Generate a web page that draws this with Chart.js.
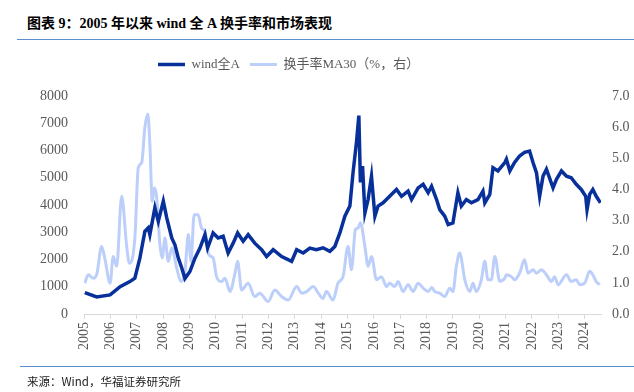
<!DOCTYPE html>
<html>
<head>
<meta charset="utf-8">
<script src="https://cdn.jsdelivr.net/npm/chart.js@4.4.1/dist/chart.umd.min.js"></script>
<style>
  html, body { margin:0; padding:0; background:#fff; }
  body { width:634px; height:392px; position:relative; overflow:hidden;
         font-family:'Liberation Serif','Noto Sans CJK SC',serif; }
  #title { position:absolute; left:27px; top:12px; font-size:14px; font-weight:bold; color:#000; white-space:nowrap; }
  .rule { position:absolute; left:17px; right:0; height:0; border-top:1.5px solid #5b8fd0; }
  #foot { position:absolute; left:27px; top:373px; font-size:11.5px; color:#222; white-space:nowrap;
          font-family:'Noto Sans CJK SC','Noto Sans',sans-serif; }
  #wrap { position:absolute; left:0; top:0; width:634px; height:392px; }
</style>
</head>
<body>
<div id="title">图表 9：2005 年以来 wind 全 A 换手率和市场表现</div>
<div class="rule" style="top:39px"></div>
<div id="wrap"><canvas id="c" width="634" height="392"></canvas></div>
<div class="rule" style="top:366px; left:20px"></div>
<div id="foot">来源：Wind，华福证券研究所</div>
<script>
// wind全A (left axis) — decimal year / index level
const indexDates = [2005.03,2005.48,2005.99,2006.37,2006.74,2006.93,2007.12,2007.31,2007.44,2007.50,2007.69,2007.82,
  2008.01,2008.14,2008.33,2008.45,2008.58,2008.71,2008.83,2009.02,2009.21,2009.40,2009.59,2009.69,2009.90,
  2010.09,2010.28,2010.47,2010.66,2010.83,2011.04,2011.23,2011.48,2011.74,2011.93,2012.18,2012.50,2012.88,
  2013.07,2013.32,2013.57,2013.82,2014.07,2014.33,2014.52,2014.71,2014.90,2015.09,2015.21,2015.34,2015.43,
  2015.49,2015.57,2015.66,2015.78,2015.91,2016.04,2016.16,2016.35,2016.60,2016.86,2017.05,2017.30,2017.43,
  2017.68,2017.87,2018.06,2018.19,2018.38,2018.50,2018.69,2018.82,2019.00,2019.19,2019.32,2019.51,2019.70,
  2019.95,2020.14,2020.21,2020.40,2020.52,2020.71,2020.97,2021.03,2021.16,2021.34,2021.53,2021.72,2021.91,
  2022.04,2022.17,2022.29,2022.42,2022.55,2022.80,2022.93,2023.12,2023.31,2023.49,2023.68,2023.87,2024.04,
  2024.09,2024.19,2024.31,2024.44,2024.60];
const indexValues = [785,627,700,1000,1190,1315,2050,3030,3160,2910,3900,3400,
  4140,3530,2790,2540,2050,1690,1300,1560,2050,2420,2910,2420,2975,
  2790,2850,2240,2600,2975,2670,2910,2600,2360,2110,2360,2110,1930,
  2360,2240,2420,2360,2430,2300,2480,2975,3590,3960,5190,6300,7280,
  4830,5430,3710,4200,5060,3590,3960,4080,4320,4570,4320,4510,4200,
  4630,4760,4450,4690,4200,3830,3590,3280,3340,4450,3960,4200,4080,
  4200,4510,4080,4390,5370,5250,5560,5680,5250,5560,5800,5930,5980,
  5560,5190,4320,5060,5310,4630,4940,5250,5060,5000,4760,4570,4320,
  3830,4390,4570,4320,4080];

// 换手率MA30 (right axis, %)
const turnDates = [2005.03,2005.16,2005.35,2005.48,2005.67,2005.80,2005.99,2006.11,2006.24,2006.43,2006.62,2006.72,
  2006.93,2007.06,2007.19,2007.31,2007.42,2007.50,2007.59,2007.67,2007.76,2007.88,2007.97,2008.07,2008.20,
  2008.33,2008.52,2008.68,2008.83,2008.96,2009.06,2009.18,2009.33,2009.46,2009.59,2009.74,2009.90,2010.03,
  2010.22,2010.35,2010.54,2010.73,2010.83,2010.98,2011.23,2011.48,2011.67,2011.99,2012.24,2012.50,2012.75,
  2013.07,2013.26,2013.45,2013.70,2013.89,2014.07,2014.20,2014.45,2014.64,2014.83,2015.02,2015.15,2015.30,
  2015.40,2015.49,2015.66,2015.78,2015.91,2016.10,2016.29,2016.48,2016.60,2016.79,2016.92,2017.11,2017.30,
  2017.49,2017.68,2017.87,2018.06,2018.20,2018.31,2018.50,2018.69,2018.88,2019.00,2019.13,2019.26,2019.45,
  2019.64,2019.76,2019.89,2020.08,2020.21,2020.33,2020.46,2020.59,2020.78,2020.97,2021.03,2021.22,2021.34,
  2021.53,2021.72,2021.85,2022.04,2022.17,2022.36,2022.55,2022.74,2022.86,2022.99,2023.31,2023.49,2023.68,
  2023.81,2024.00,2024.19,2024.31,2024.44,2024.57];
const turnValues = [0.99,1.26,1.15,1.26,2.17,1.74,0.99,1.85,1.53,3.78,2.17,1.63,
  2.44,4.70,4.86,5.99,6.42,5.45,3.62,4.05,3.73,2.23,1.80,2.44,1.69,
  2.12,1.47,1.04,1.36,2.55,1.69,3.19,3.19,2.76,2.65,1.90,1.80,1.20,
  1.04,1.15,0.72,1.31,1.69,0.77,0.99,0.56,0.67,0.40,0.77,0.56,0.45,
  0.88,0.67,0.72,0.88,0.67,0.50,0.72,0.45,0.99,1.20,2.17,1.42,2.71,
  2.76,2.93,2.17,1.53,1.85,1.10,1.20,0.88,0.99,0.88,1.04,0.72,0.94,
  0.72,0.99,0.83,0.72,0.85,0.72,0.67,0.56,0.83,0.72,1.53,1.96,1.10,
  0.72,0.99,0.72,1.10,1.69,1.10,1.10,1.85,1.05,1.15,1.26,1.20,1.10,
  1.31,1.74,1.31,1.42,1.31,1.42,1.26,1.04,1.20,0.94,1.26,1.04,1.10,
  0.94,0.99,1.37,1.26,1.04,0.94];

const seriesNames = ['wind全A', '换手率MA30（%，右）'];
const leftTicks = [0, 8000, 1000];   // min, max, step
const rightTicks = [0, 7, 1];
const xRange = [2005, 2024.62];

const FONT = "'Liberation Serif','Noto Sans CJK SC',serif";
const GREY = '#595959';

// legend placement tweaks: extra gap below, fixed left start
const legendTweak = {
  id: 'legendTweak',
  afterInit(chart) {
    const lg = chart.legend; if (!lg) return;
    const fit = lg.fit;
    lg.fit = function() { fit.call(this); this.height += 15; };
  },
  afterLayout(chart) {
    const lg = chart.legend; if (!lg) return;
    const w = lg.right - lg.left;
    lg.left = 158 - lg.options.labels.padding;
    lg.right = lg.left + w;
  }
};

new Chart(document.getElementById('c'), {
  type: 'line',
  data: {
    datasets: [
      { label: seriesNames[0], yAxisID: 'y',
        data: indexDates.map((t, i) => ({ x: t, y: indexValues[i] })),
        borderColor: '#07309b', backgroundColor: '#07309b', borderWidth: 3.5, pointRadius: 0, tension: 0 },
      { label: seriesNames[1], yAxisID: 'y1',
        data: turnDates.map((t, i) => ({ x: t, y: turnValues[i] })),
        borderColor: '#bccffa', backgroundColor: '#bccffa', borderWidth: 3, pointRadius: 0,
        cubicInterpolationMode: 'monotone' }
    ]
  },
  options: {
    responsive: false, animation: false, maintainAspectRatio: false,
    layout: { padding: { top: 48, left: 0, right: 0, bottom: 0 } },
    plugins: {
      legend: { position: 'top', align: 'start',
        labels: { usePointStyle: true, pointStyle: 'line', pointStyleWidth: 27, padding: 10,
                  color: GREY, font: { family: FONT, size: 13 } } },
      tooltip: { enabled: false }
    },
    scales: {
      x: { type: 'linear', min: xRange[0], max: xRange[1],
        afterFit: s => { s.height = 78; },
        border: { display: true, color: '#d9d9d9', width: 1 },
        grid: { drawOnChartArea: false, drawTicks: true, tickLength: 5, color: '#d9d9d9' },
        ticks: { stepSize: 1, includeBounds: false, autoSkip: false, minRotation: 90, maxRotation: 90, padding: 3,
                 color: GREY, font: { family: FONT, size: 14 },
                 callback: v => Number.isInteger(v) ? String(v) : null } },
      y: { position: 'left', min: leftTicks[0], max: leftTicks[1],
        afterFit: s => { s.width = 84; },
        border: { display: false }, grid: { display: false, drawTicks: false },
        ticks: { stepSize: leftTicks[2], padding: 16, color: GREY, font: { family: FONT, size: 14 },
                 callback: v => String(v) } },
      y1: { position: 'right', min: rightTicks[0], max: rightTicks[1],
        afterFit: s => { s.width = 33; },
        border: { display: false }, grid: { display: false, drawTicks: false },
        ticks: { stepSize: rightTicks[2], padding: 11, color: GREY, font: { family: FONT, size: 14 },
                 callback: v => v.toFixed(1) } }
    }
  },
  plugins: [legendTweak]
});
</script>
</body>
</html>
